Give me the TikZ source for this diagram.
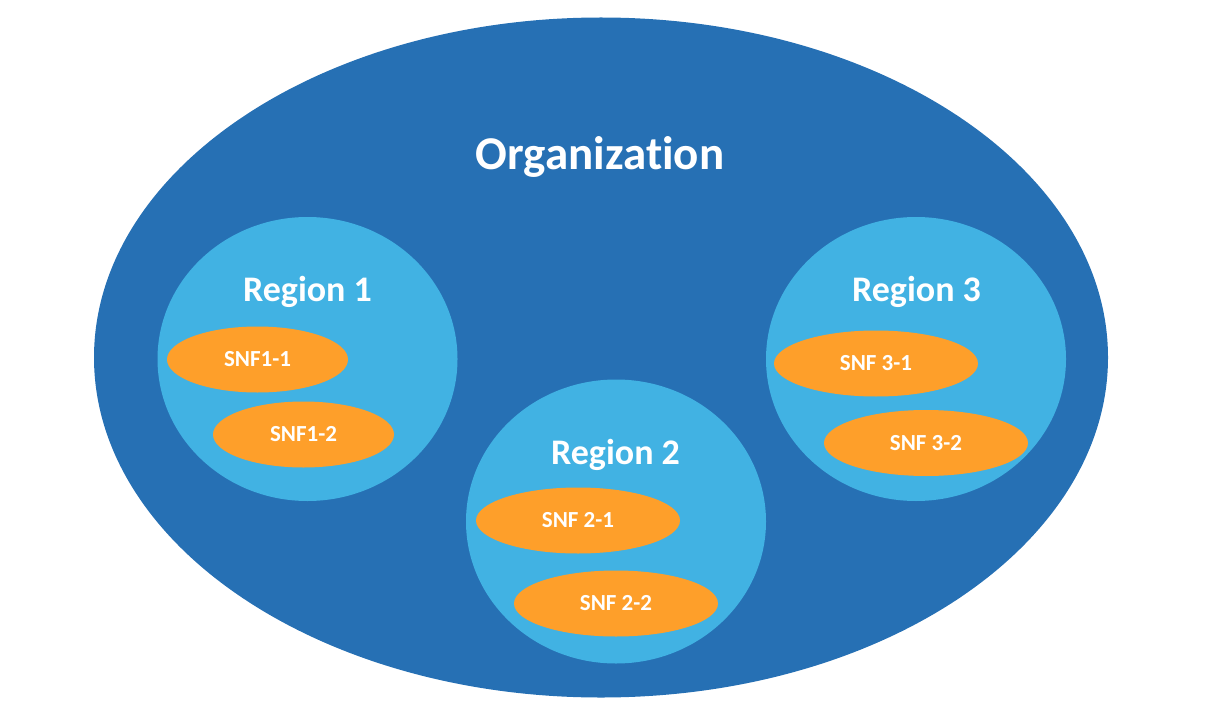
\documentclass[tikz,border=0pt]{standalone}
\usepackage{fontspec}
\setmainfont{Carlito}[Ligatures={NoCommon}]
\usetikzlibrary{shapes.geometric}
\definecolor{orgblue}{RGB}{38,112,180}
\definecolor{regblue}{RGB}{65,178,227}
\definecolor{snforange}{RGB}{254,159,42}
\tikzset{
  orgshape/.style={ellipse, fill=orgblue, inner sep=0pt, minimum width=1014pt, minimum height=680pt},
  regshape/.style={ellipse, fill=regblue, inner sep=0pt, minimum width=300pt, minimum height=284pt},
  snfshape/.style={ellipse, fill=snforange, inner sep=0pt, font=\fontsize{23}{26}\selectfont\bfseries, text=white},
  snfone/.style={snfshape, minimum width=181pt, minimum height=66pt},
  snfwide/.style={snfshape, minimum width=204pt, minimum height=66pt},
  regtitle/.style={anchor=base, inner sep=0pt, text=white, font=\fontsize{36}{40}\selectfont\bfseries},
  orgtitle/.style={anchor=base, inner sep=0pt, text=white, font=\fontsize{47}{52}\selectfont\bfseries}
}
\begin{document}
\begin{tikzpicture}[x=1pt,y=-1pt]
\useasboundingbox (0,0) rectangle (1214,722);
\node[orgshape] (org) at (601,357.5) {};
\node[orgtitle] (orgt) at (600,169) {Organization};

\node[regshape] (r1) at (307.5,359) {};
\node[regshape] (r2) at (616,521.5) {};
\node[regshape] (r3) at (916,359) {};

\node[regtitle] (r1t) at (307.5,301) {Region 1};
\node[regtitle] (r2t) at (615.5,464) {Region 2};
\node[regtitle] (r3t) at (916.5,301) {Region 3};

\node[snfone] (s11) at (257.5,359.5) {SNF1-1};
\node[snfone] (s12) at (303.5,434.5) {SNF1-2};
\node[snfwide] (s21) at (578,520.5) {SNF 2-1};
\node[snfwide] (s22) at (616,603.5) {SNF 2-2};
\node[snfwide] (s31) at (876,363.5) {SNF 3-1};
\node[snfwide] (s32) at (926,443) {SNF 3-2};
\end{tikzpicture}
\end{document}
